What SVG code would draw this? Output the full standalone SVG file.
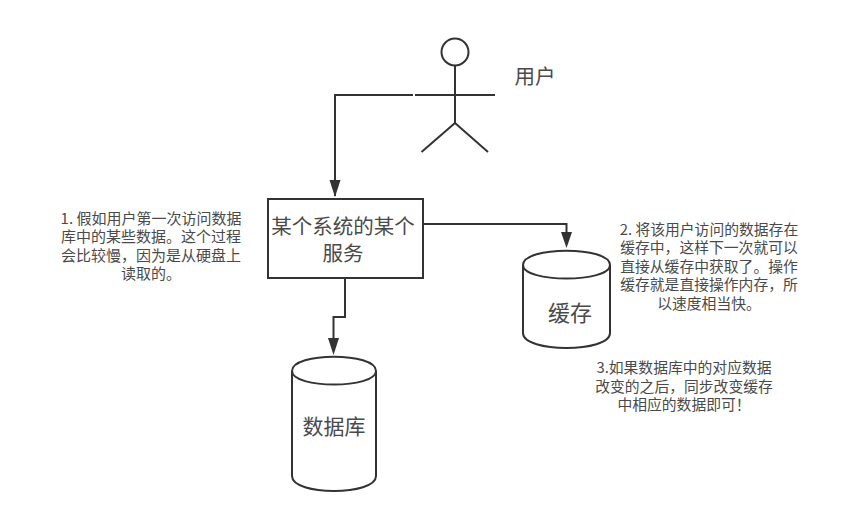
<svg xmlns="http://www.w3.org/2000/svg" width="850" height="520" viewBox="0 0 850 520">
<defs>
<style>
text{font-family:"Noto Sans CJK SC","Liberation Sans",sans-serif;fill:#4a4a4a;text-anchor:middle}
.s{fill:none;stroke:#333;stroke-width:2}
.box{fill:#fff;stroke:#333;stroke-width:2}
.head{fill:#333}
.md{font-size:20.500px}
</style>
</defs>
<rect width="850" height="520" fill="#fff"/>
<g id="connectors">
<path class="s" d="M413 95 H335 V196"/>
<path class="head" d="M329.500 180 H340.500 L335 197 Z"/>
<path class="s" d="M345 279 V317 H333.500 V340"/>
<path class="head" d="M328 338 H339 L333.500 355 Z"/>
<path class="s" d="M423 224 H566.500 V234"/>
<path class="head" d="M561 232 H572 L566.500 248 Z"/>
</g>
<g id="actor-user">
<circle class="s" cx="455" cy="52" r="13.500"/>
<path class="s" d="M415 95 H495 M455 66 V123 M455 123 L421.500 152 M455 123 L488 152"/>
<text class="md" x="535" y="84">用户</text>
</g>
<g id="service">
<rect class="box" x="268" y="199" width="155" height="79"/>
<text class="md"><tspan x="343" y="234">某个系统的某个</tspan><tspan x="343" y="261">服务</tspan></text>
</g>
<g id="cache">
<path class="box" d="M523 265 C523 246 610 246 610 265 V333 C610 353 523 353 523 333 Z"/>
<path class="s" d="M523 265 C523 283 610 283 610 265"/>
<text x="570" y="321" font-size="22">缓存</text>
</g>
<g id="database">
<path class="box" d="M292 371 C292 352 376 352 376 371 V476 C376 496 292 496 292 476 Z"/>
<path class="s" d="M292 371 C292 389 376 389 376 371"/>
<text x="334" y="434" font-size="21">数据库</text>
</g>
<g id="note-1">
<text font-size="15"><tspan x="151" y="224">1. 假如用户第一次访问数据</tspan><tspan x="151" y="242">库中的某些数据。这个过程</tspan><tspan x="151" y="261">会比较慢，因为是从硬盘上</tspan><tspan x="151" y="279">读取的。</tspan></text>
</g>
<g id="note-2">
<text font-size="14.800"><tspan x="709" y="235">2. 将该用户访问的数据存在</tspan><tspan x="709" y="253">缓存中，这样下一次就可以</tspan><tspan x="709" y="272">直接从缓存中获取了。操作</tspan><tspan x="709" y="290">缓存就是直接操作内存，所</tspan><tspan x="709" y="309">以速度相当快。</tspan></text>
</g>
<g id="note-3">
<text font-size="14.800"><tspan x="684" y="373">3.如果数据库中的对应数据</tspan><tspan x="684" y="392">改变的之后，同步改变缓存</tspan><tspan x="684" y="410">中相应的数据即可！</tspan></text>
</g>
</svg>
